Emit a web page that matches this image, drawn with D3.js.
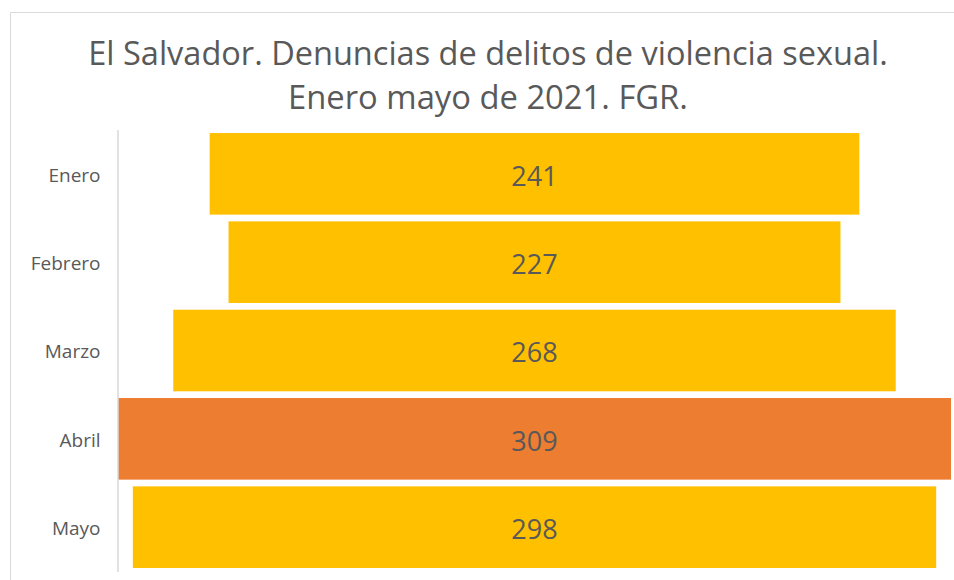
<!DOCTYPE html>
<html>
<head>
<meta charset="utf-8">
<script src="https://cdn.jsdelivr.net/npm/d3@7"></script>
<style>
  body { margin: 0; background: #fff; }
  svg { display: block; font-family: "Open Sans", sans-serif; }
</style>
</head>
<body>
<script>
let months = ["Enero", "Febrero", "Marzo", "Abril", "Mayo"]
let counts = [241, 227, 268, 309, 298]
let colors = ["#FFC000", "#FFC000", "#FFC000", "#ED7D31", "#FFC000"]
let titleLines = ["El Salvador. Denuncias de delitos de violencia sexual.", "Enero mayo de 2021. FGR."]

let W = 954, H = 580
let plot = {left: 118, right: 951, top: 129.5, bottom: 571.5}

let svg = d3.select("body").append("svg").attr("width", W).attr("height", H)

// chart area border (only top and left visible in the crop)
svg.append("path")
   .attr("d", "M10.5," + H + "V12.5H" + W)
   .attr("fill", "none").attr("stroke", "#d9d9d9").attr("stroke-width", 1)

// title
let title = svg.append("g").attr("fill", "#595959").attr("text-anchor", "middle")
let titleWidths = [800, 400]
let titleBase = [65, 109]
titleLines.forEach((t, i) => {
  let txt = title.append("text").attr("x", 488).attr("y", titleBase[i])
                 .attr("font-size", 30).text(t)
  let w = txt.node().getComputedTextLength()
  txt.attr("font-size", 30 * titleWidths[i] / w)
})

let y = d3.scaleBand()
          .domain(months)
          .range([plot.top, plot.bottom])
          .paddingInner(0.076)
          .paddingOuter(0.04)

let x = d3.scaleLinear()
          .domain([0, d3.max(counts)])
          .range([0, plot.right - plot.left])

let cx = (plot.left + plot.right) / 2

// bars (centered funnel)
svg.selectAll("rect.bar")
   .data(months)
   .enter().append("rect")
           .attr("class", "bar")
           .attr("x", (d, i) => cx - x(counts[i]) / 2)
           .attr("y", d => y(d))
           .attr("width", (d, i) => x(counts[i]))
           .attr("height", y.bandwidth())
           .attr("fill", (d, i) => colors[i])

// value labels
svg.selectAll("text.val")
   .data(months)
   .enter().append("text")
           .attr("class", "val")
           .attr("x", cx)
           .attr("y", d => y(d) + y.bandwidth() / 2 + 2)
           .attr("dy", "0.36em")
           .attr("text-anchor", "middle")
           .attr("font-size", 27)
           .attr("fill", "#595959")
           .text((d, i) => counts[i])

// category axis
let axis = svg.append("g")
              .attr("transform", "translate(" + (plot.left - 0.5) + ",0)")
              .call(d3.axisLeft(y).tickSize(0).tickPadding(17))
axis.select(".domain").attr("stroke", "#d9d9d9").attr("stroke-width", 1.5)
axis.selectAll("text").attr("font-size", 19).attr("fill", "#595959")
    .attr("font-family", "'Open Sans', sans-serif")
    .attr("dy", "0.42em")
</script>
</body>
</html>
